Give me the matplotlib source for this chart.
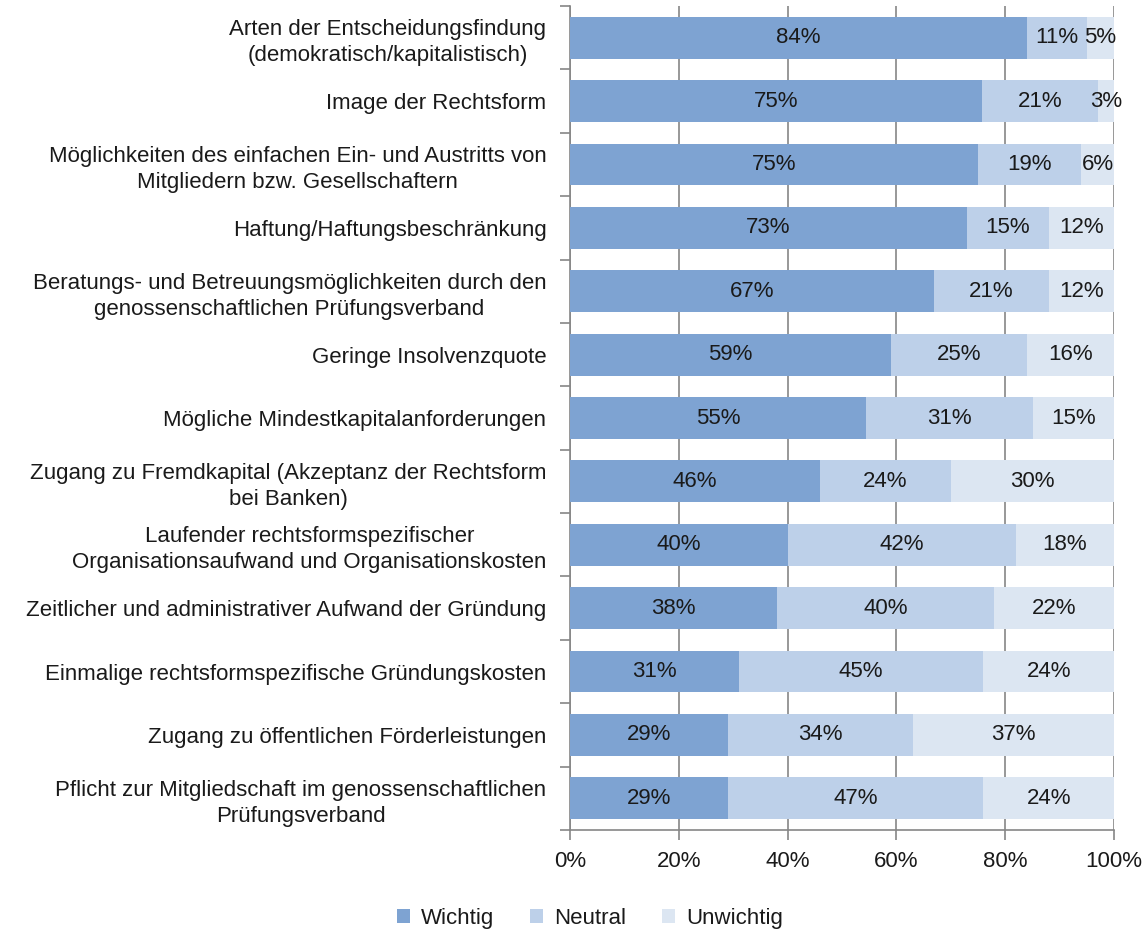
import numpy as np
import matplotlib
matplotlib.use("Agg")
import matplotlib.pyplot as plt

plt.rcParams['font.family'] = ['Liberation Sans', 'DejaVu Sans']

# Survey results (percent)
categories = [
    "Arten der Entscheidungsfindung\n(demokratisch/kapitalistisch)",
    "Image der Rechtsform",
    "Möglichkeiten des einfachen Ein- und Austritts von\nMitgliedern bzw. Gesellschaftern",
    "Haftung/Haftungsbeschränkung",
    "Beratungs- und Betreuungsmöglichkeiten durch den\ngenossenschaftlichen Prüfungsverband",
    "Geringe Insolvenzquote",
    "Mögliche Mindestkapitalanforderungen",
    "Zugang zu Fremdkapital (Akzeptanz der Rechtsform\nbei Banken)",
    "Laufender rechtsformspezifischer\nOrganisationsaufwand und Organisationskosten",
    "Zeitlicher und administrativer Aufwand der Gründung",
    "Einmalige rechtsformspezifische Gründungskosten",
    "Zugang zu öffentlichen Förderleistungen",
    "Pflicht zur Mitgliedschaft im genossenschaftlichen\nPrüfungsverband",
]
wichtig   = [84, 75, 75, 73, 67, 59, 55, 46, 40, 38, 31, 29, 29]
neutral   = [11, 21, 19, 15, 21, 25, 31, 24, 42, 40, 45, 34, 47]
unwichtig = [5, 3, 6, 12, 12, 16, 15, 30, 18, 22, 24, 37, 24]
series_names = ["Wichtig", "Neutral", "Unwichtig"]
colors = ["#7ea3d2", "#bdd0e9", "#dce6f2"]

data = np.array([wichtig, neutral, unwichtig], dtype=float)
shares = data / data.sum(axis=0) * 100   # 100% stacked

fig = plt.figure(figsize=(11.46, 9.36), dpi=100)
ax = fig.add_axes([570/1146, 1-830/936, 544/1146, 824/936])

y = np.arange(len(categories))
left = np.zeros(len(categories))
for k in range(3):
    ax.barh(y, shares[k], left=left, height=0.66, color=colors[k],
            label=series_names[k], zorder=3)
    for i in range(len(categories)):
        ax.text(left[i] + shares[k][i]/2, y[i], "%d%%" % data[k][i],
                ha='center', va='center', fontsize=16, color='#1a1a1a', zorder=4)
    left += shares[k]

ax.set_xlim(0, 100)
ax.set_ylim(len(categories) - 0.5, -0.5)
ax.set_xticks(np.arange(0, 101, 20))
ax.set_xticklabels(["%d%%" % v for v in range(0, 101, 20)], fontsize=16, color='#1a1a1a')
ax.set_yticks(y)
ax.set_yticklabels(categories, fontsize=16, color='#1a1a1a', linespacing=1.3,
                   multialignment='center')
ax.set_yticks(np.arange(-0.5, len(categories)), minor=True)
ax.tick_params(axis='y', which='major', length=0, pad=17)
ax.tick_params(axis='y', which='minor', length=7, color='#868686', width=1.2)
ax.tick_params(axis='x', length=7, color='#868686', width=1.2, pad=8)

ax.grid(axis='x', color='#868686', linewidth=1.2, zorder=0)
for s in ['top', 'right']:
    ax.spines[s].set_visible(False)
for s in ['left', 'bottom']:
    ax.spines[s].set_color('#868686')
    ax.spines[s].set_linewidth(1.2)

fig.legend(loc='center', bbox_to_anchor=(0.515, 0.019), ncol=3, frameon=False,
           fontsize=16, handlelength=0.6, handleheight=0.6, handletextpad=0.5,
           columnspacing=1.6, labelcolor='#1a1a1a')

fig.savefig("out.png", dpi=100)
